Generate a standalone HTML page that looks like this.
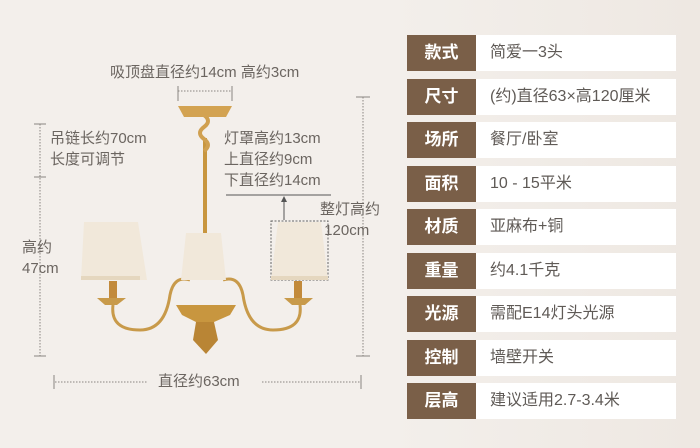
<!DOCTYPE html>
<html><head><meta charset="utf-8"><style>
html,body{margin:0;padding:0}
body{width:700px;height:448px;background:#f3efeb;position:relative;overflow:hidden;font-family:"Liberation Sans","Noto Sans CJK SC",sans-serif}
.t{position:absolute;color:#6b6560;font-size:15px;line-height:21px;white-space:nowrap}
.row{position:absolute;left:407px;width:269px;height:36px}
.lab{position:absolute;left:0;top:0;width:69px;height:36px;background:#7a5f48;color:#fff;font-size:17px;line-height:36px;text-align:center;font-weight:bold}
.val{position:absolute;left:69px;top:0;width:200px;height:36px;background:#fff;color:#5f5a56;font-size:16px;line-height:36px;padding-left:14px;box-sizing:border-box}
</style></head><body>
<div style="position:absolute;left:392px;top:0;width:308px;height:448px;background:linear-gradient(90deg,#f3efeb,#eee8e2)"></div>
<svg width="700" height="448" style="position:absolute;left:0;top:0">
<g stroke="#8a8580" stroke-width="1" fill="none">
<line x1="178" y1="91" x2="232" y2="91" stroke-dasharray="1.5,1.5"/>
<line x1="178" y1="86" x2="178" y2="101"/><line x1="232" y1="86" x2="232" y2="101"/>
<line x1="40" y1="124" x2="40" y2="356" stroke-dasharray="1.5,1.5"/>
<line x1="34" y1="124" x2="46" y2="124"/><line x1="34" y1="177" x2="46" y2="177"/><line x1="34" y1="356" x2="46" y2="356"/>
<line x1="363" y1="97" x2="363" y2="356" stroke-dasharray="1.5,1.5"/>
<line x1="356" y1="97" x2="370" y2="97"/><line x1="356" y1="356" x2="370" y2="356"/>
<line x1="55" y1="382" x2="148" y2="382" stroke-dasharray="1.5,1.5"/>
<line x1="262" y1="382" x2="360" y2="382" stroke-dasharray="1.5,1.5"/>
<line x1="54" y1="375" x2="54" y2="389"/><line x1="361" y1="375" x2="361" y2="389"/>
<line x1="226" y1="195" x2="331" y2="195" stroke="#555"/>
<line x1="284" y1="200" x2="284" y2="220" stroke="#555"/>
<rect x="271" y="221" width="57" height="59" stroke="#666" stroke-dasharray="2,1.5"/>
</g>
<polygon points="284,196 281,202 287,202" fill="#555"/>
<g fill="none" stroke="#c89a4a" stroke-width="3">
<path d="M113 305 Q110 330 140 330 Q165 330 170 295 Q174 275 190 280"/>
<path d="M300 305 Q303 330 273 330 Q248 330 243 295 Q239 275 223 280"/>
</g>
<rect x="203" y="138" width="4" height="116" fill="#c8963f"/>
<path d="M204 115 q8 6 0 12 q-8 6 0 12 q8 6 0 12" stroke="#d0a050" stroke-width="4" fill="none"/>
<path d="M178 106 L232 106 L226 117 L184 117 Z" fill="#d3a352"/>
<path d="M84 222 L138 222 L147 280 L81 280 Z" fill="#f1e8da"/>
<path d="M186 233 L221 233 L226 280 L181 280 Z" fill="#f1e8da"/>
<path d="M278 222 L321 222 L328 280 L271 280 Z" fill="#f1e8da"/>
<rect x="81" y="276" width="59" height="4" fill="#e5d7bf"/>
<rect x="271" y="276" width="57" height="4" fill="#e5d7bf"/>
<rect x="109" y="281" width="8" height="18" fill="#c28a3b"/>
<rect x="294" y="281" width="8" height="18" fill="#c28a3b"/>
<path d="M97 298 L126 298 L117 305 L105 305Z" fill="#c89a4a"/>
<path d="M284 298 L313 298 L305 305 L292 305Z" fill="#c89a4a"/>
<path d="M176 305 L236 305 L230 315 L214 322 L196 322 L182 315Z" fill="#c8963f"/>
<path d="M196 322 L214 322 L218 340 L206 354 L193 340 Z" fill="#b98535"/>
</svg>
<div class="t" style="left:110px;top:62px">吸顶盘直径约14cm 高约3cm</div>
<div class="t" style="left:50px;top:128px">吊链长约70cm<br>长度可调节</div>
<div class="t" style="left:224px;top:128px">灯罩高约13cm<br>上直径约9cm<br>下直径约14cm</div>
<div class="t" style="left:320px;top:199px">整灯高约<br>&nbsp;120cm</div>
<div class="t" style="left:22px;top:237px">高约<br>47cm</div>
<div class="t" style="left:158px;top:371px">直径约63cm</div>
<div class="row" style="top:35px"><div class="lab">款式</div><div class="val">简爱一3头</div></div>
<div class="row" style="top:78.5px"><div class="lab">尺寸</div><div class="val">(约)直径63×高120厘米</div></div>
<div class="row" style="top:122px"><div class="lab">场所</div><div class="val">餐厅/卧室</div></div>
<div class="row" style="top:165.5px"><div class="lab">面积</div><div class="val">10 - 15平米</div></div>
<div class="row" style="top:209px"><div class="lab">材质</div><div class="val">亚麻布+铜</div></div>
<div class="row" style="top:252.5px"><div class="lab">重量</div><div class="val">约4.1千克</div></div>
<div class="row" style="top:296px"><div class="lab">光源</div><div class="val">需配E14灯头光源</div></div>
<div class="row" style="top:339.5px"><div class="lab">控制</div><div class="val">墙壁开关</div></div>
<div class="row" style="top:383px"><div class="lab">层高</div><div class="val">建议适用2.7-3.4米</div></div>
</body></html>
